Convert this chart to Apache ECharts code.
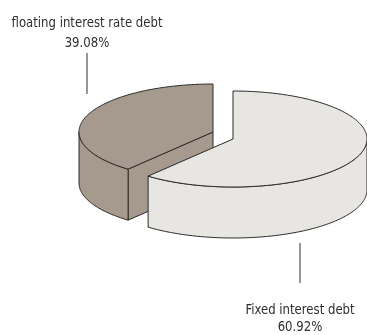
<!DOCTYPE html>
<html>
<head>
<meta charset="utf-8">
<script src="https://cdn.jsdelivr.net/npm/echarts@6/dist/echarts.min.js"></script>
<style>
  html, body { margin: 0; padding: 0; background: #ffffff; }
  #chart { width: 367px; height: 335px; }
</style>
</head>
<body>
<div id="chart"></div>
<script>
// Debt structure by interest type
const categories = ['Fixed interest debt', 'floating interest rate debt'];
const shares = [60.92, 39.08];
const percentLabels = ['60.92%', '39.08%'];

const sliceColors = ['#e8e6e2', '#a69a8e'];
const edgeColor = '#2a2a2a';
const FONT = '"Liberation Sans Narrow", "DejaVu Sans Condensed", "Arial Narrow", sans-serif';
const TEXT_SQUEEZE = 0.93;

// Tilted pie geometry in pixels: ellipse radii, extrusion depth, start at 12 o'clock
const PIE = { cx: 223, cy: 135.5, rx: 134, ry: 48, depth: 51, startDeg: -90 };
// Per-slice pull-out offsets
const EXPLODE = [[10, 3.5], [-10, -3.5]];
// Label anchors: leader line x, line top/bottom, first text line y, line spacing
const LABEL_POS = [
  { x: 300, y1: 243, y2: 283, ty: 310, gap: 17 },
  { x: 87, y1: 53, y2: 94, ty: 23, gap: 20 }
];
// Slices further to the front are painted later
const PAINT_ORDER = [10, 0];

const total = shares.reduce((s, v) => s + v, 0);

function ellipsePt(c, a, dy) {
  return [c[0] + PIE.rx * Math.cos(a), c[1] + PIE.ry * Math.sin(a) + (dy || 0)];
}

function arcPts(c, a0, a1, dy) {
  const n = Math.max(8, Math.ceil(Math.abs(a1 - a0) / 0.02));
  const pts = [];
  for (let k = 0; k <= n; k++) pts.push(ellipsePt(c, a0 + (a1 - a0) * k / n, dy));
  return pts;
}

function renderItem(params, api) {
  const i = params.dataIndex;
  const value = api.value(0);
  let before = 0;
  for (let k = 0; k < i; k++) before += shares[k];
  const start = PIE.startDeg * Math.PI / 180;
  const a0 = start + before / total * Math.PI * 2;
  const a1 = a0 + value / total * Math.PI * 2;
  const c = [PIE.cx + EXPLODE[i][0], PIE.cy + EXPLODE[i][1]];
  const D = PIE.depth;
  const z = PAINT_ORDER[i];
  const faceStyle = { fill: sliceColors[i], stroke: edgeColor, lineWidth: 1, lineJoin: 'round' };
  const children = [];

  // Radial cut faces that turn toward the viewer
  const cutFace = (a) => {
    const p = ellipsePt(c, a);
    children.push({
      type: 'polygon', z2: z + 1,
      shape: { points: [c, p, [p[0], p[1] + D], [c[0], c[1] + D]] },
      style: faceStyle
    });
  };
  if (Math.cos(a0) < -1e-6) cutFace(a0);
  if (Math.cos(a1) > 1e-6) cutFace(a1);

  // Outer wall: only the front half of the rim (0..pi) is visible
  const s = Math.max(a0, 0), e = Math.min(a1, Math.PI);
  if (e > s) {
    const top = arcPts(c, s, e, 0);
    const bottom = arcPts(c, e, s, D);
    children.push({
      type: 'polygon', z2: z + 2,
      shape: { points: top.concat(bottom) },
      style: faceStyle
    });
  }

  // Top face
  children.push({
    type: 'polygon', z2: z + 3,
    shape: { points: [c].concat(arcPts(c, a0, a1, 0)) },
    style: faceStyle
  });

  // Leader line and two-line label
  const L = LABEL_POS[i];
  children.push({
    type: 'line', z2: z + 4,
    shape: { x1: L.x, y1: L.y1, x2: L.x, y2: L.y2 },
    style: { stroke: '#6a6a6a', lineWidth: 1.4 }
  });
  [categories[i], percentLabels[i]].forEach((t, k) => {
    children.push({
      type: 'text', z2: z + 4,
      x: L.x, y: L.ty + k * L.gap,
      scaleX: TEXT_SQUEEZE,
      style: {
        text: t, x: 0, y: 0,
        align: 'center', verticalAlign: 'middle',
        fontSize: 14, fontFamily: FONT, fill: '#2e2e2e'
      }
    });
  });

  return { type: 'group', children };
}

const chart = echarts.init(document.getElementById('chart'), null, { renderer: 'canvas' });
chart.setOption({
  backgroundColor: '#ffffff',
  animation: false,
  series: [{
    type: 'custom',
    coordinateSystem: 'none',
    silent: true,
    renderItem: renderItem,
    data: shares.map((v, i) => ({ name: categories[i], value: [v] }))
  }]
});
</script>
</body>
</html>
